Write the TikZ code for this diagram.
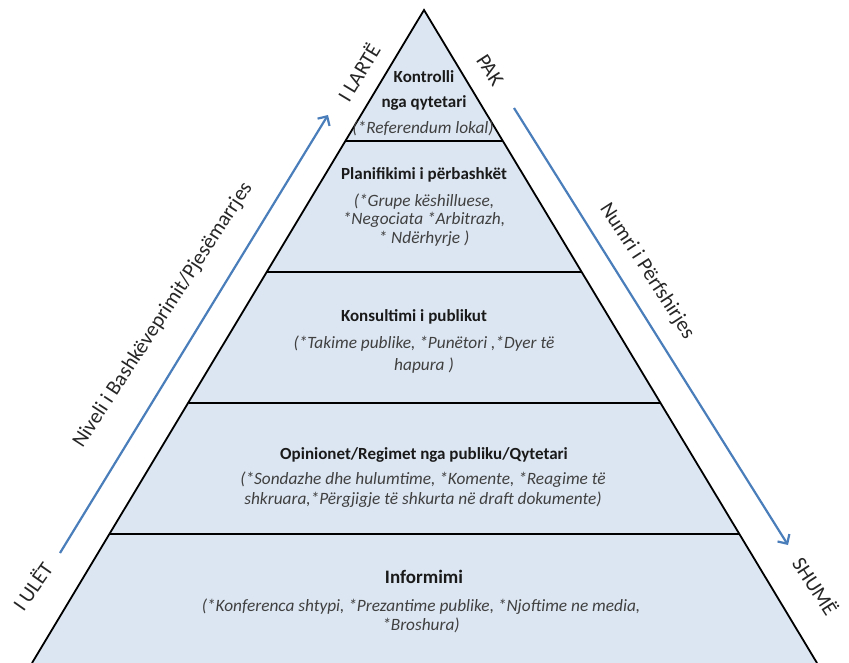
\documentclass[tikz,border=0pt]{standalone}
\usepackage{fontspec}
\setmainfont{Carlito}
\usetikzlibrary{arrows.meta}
\definecolor{bandfill}{HTML}{DCE6F2}
\definecolor{arrowblue}{HTML}{4A7EBB}
\definecolor{desctext}{HTML}{404040}
\definecolor{headtext}{HTML}{1A1A1A}
\begin{document}
\begin{tikzpicture}[x=1pt,y=-1pt,
  head/.style={font=\fontsize{17}{20}\selectfont\bfseries, text=headtext, inner sep=0pt, align=center},
  desc/.style={font=\fontsize{17.3}{#1}\selectfont\itshape, text=desctext, inner sep=0pt, align=center},
  desc/.default=19,
  side/.style={font=\fontsize{21}{24}\selectfont, text=black!85, inner sep=0pt},
  sidearrow/.style={draw=arrowblue, line width=2.2pt, -{Straight Barb[length=7pt,width=14pt,line width=2.2pt]}},
  sep/.style={draw=black, line width=1.8pt}]
\useasboundingbox (0,0) rectangle (849,663);
% pyramid corners
\coordinate (apex) at (424,10);
\coordinate (bl) at (32,663);
\coordinate (br) at (817,663);
\fill[bandfill] (apex) -- (br) -- (bl) -- cycle;
% separator lines
\coordinate (l1) at (345.6,141); \coordinate (r1) at (502.9,141);
\coordinate (l2) at (267.1,272); \coordinate (r2) at (581.7,272);
\coordinate (l3) at (188.5,403); \coordinate (r3) at (660.6,403);
\coordinate (l4) at (109.9,534); \coordinate (r4) at (739.5,534);
\draw[sep] (l1) -- (r1);
\draw[sep] (l2) -- (r2);
\draw[sep] (l3) -- (r3);
\draw[sep] (l4) -- (r4);
\draw[sep, line join=miter] (bl) -- (apex) -- (br);
% band 1
\node[head] (k1) at (424,77) {Kontrolli};
\node[head] (k2) at (424,103) {nga qytetari};
\node[desc] (k3) at (423,128) {(*Referendum lokal)};
% band 2
\node[head] (p1) at (424,175) {Planifikimi i përbashkët};
\node[desc=18.3] (p2) at (424,220) {(*Grupe këshilluese,\\*Negociata *Arbitrazh,\\* Ndërhyrje )};
% band 3
\node[head] (c1) at (414,317) {Konsultimi i publikut};
\node[desc=22] (c2) at (424,355) {(*Takime publike, *Punëtori ,*Dyer të\\hapura )};
% band 4
\node[head] (o1) at (424,455) {Opinionet/Regimet nga publiku/Qytetari};
\node[desc=20] (o2) at (423,490) {(*Sondazhe dhe hulumtime, *Komente, *Reagime të\\shkruara,*Përgjigje të shkurta në draft dokumente)};
% band 5
\node[head, font=\fontsize{19}{22}\selectfont\bfseries] (i1) at (424,577) {Informimi};
\node[desc=19.3] (i2) at (421,616) {(*Konferenca shtypi, *Prezantime publike, *Njoftime ne media,\\*Broshura)};
% arrows
\coordinate (la0) at (60,553); \coordinate (la1) at (328,115);
\coordinate (ra0) at (514,108); \coordinate (ra1) at (788,545);
\draw[sidearrow] (la0) -- (la1);
\draw[sidearrow] (ra0) -- (ra1);
% side labels
\node[side, rotate=59] (lt) at (358,72) {I LARTË};
\node[side, rotate=-57] (pak) at (490,70) {PAK};
\node[side, rotate=57] (lvl) at (163,315) {Niveli i Bashkëveprimit/Pjesëmarrjes};
\node[side, rotate=-57] (num) at (647,271) {Numri i Përfshirjes};
\node[side, rotate=55] (ul) at (32,586) {I ULËT};
\node[side, rotate=-57] (sh) at (816,586) {SHUMË};
\end{tikzpicture}
\end{document}
